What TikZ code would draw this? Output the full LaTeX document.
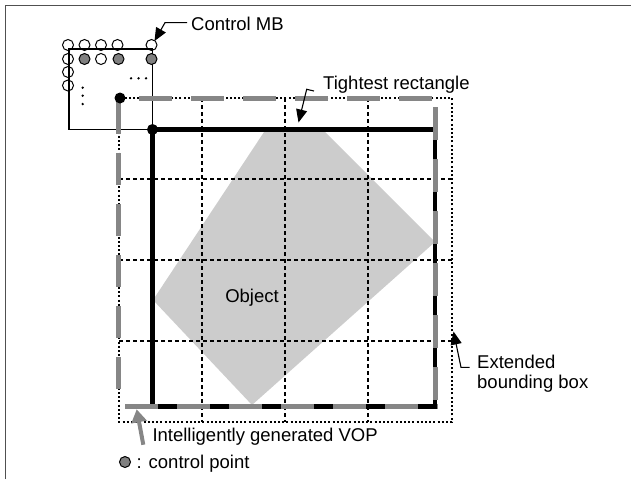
\documentclass[tikz,border=0pt]{standalone}
\usepackage{fontspec}
\setmainfont{Liberation Sans}
\usetikzlibrary{arrows.meta}
\definecolor{framegray}{HTML}{505050}
\definecolor{cpgray}{HTML}{808080}
\definecolor{vopgray}{HTML}{868686}
\definecolor{objgray}{HTML}{CCCCCC}
\begin{document}
\begin{tikzpicture}[x=1pt,y=-1pt,
  lbl/.style={font=\fontsize{18.5}{20.5}\selectfont, inner sep=0pt, anchor=base west},
  frameline/.style={draw=framegray, line width=1.3pt},
  griddash/.style={line width=1.3pt, dash pattern=on 4pt off 3pt},
  extbox/.style={line width=1.5pt, dash pattern=on 2pt off 2.2pt},
  mbline/.style={line width=1.1pt},
  tightline/.style={line width=4.6pt, line join=miter},
  vopline/.style={draw=vopgray, line width=5pt, line cap=butt},
  callout/.style={line width=1.1pt, -{Triangle[length=13pt,width=11pt]}},
  vopcallout/.style={draw=vopgray, line width=4pt, -{Triangle[length=13pt,width=15pt]}},
  ctrlpt/.style={circle, draw, line width=1pt, minimum size=11pt, inner sep=0pt},
]
\useasboundingbox (0,0) rectangle (631,479);
\draw[frameline] (5.5,479) -- (5.5,5.5) -- (631,5.5);

% object
\fill[objgray] (266,129) -- (322,129) -- (435,242) -- (252,405) -- (153,300) -- cycle;
\node[lbl, anchor=center] (obj) at (252,298) {Object};

% extended bounding box grid
\foreach \x in {202,285,368} \draw[griddash] (\x,98) -- (\x,422);
\foreach \y in {179,260,341} \draw[griddash] (119,\y) -- (452,\y);
\draw[extbox] (119,98) rectangle (452,422);

% control MB
\draw[mbline] (69,49) rectangle (152.5,129.5);
\foreach \x/\y in {68/45,84.5/45,101/45,117.5/45,151.5/45,68/59,101/59,68/72,68/85.5}
  \node[ctrlpt] at (\x,\y) {};
\foreach \x/\y in {84.5/59,118.5/59,151.5/59}
  \node[ctrlpt, fill=cpgray] at (\x,\y) {};
\foreach \x in {131,138.5,146} \fill (\x,78.3) circle (1.3pt);
\foreach \y in {87.7,95.7,104} \fill (82.7,\y) circle (1.3pt);

% tightest rectangle
\draw[tightline] (152.5,129.5) rectangle (435,406.5);

% intelligently generated VOP
\draw[vopline, dash pattern=on 33pt off 19pt, dash phase=33pt] (120,98) -- (435,98);
\draw[vopline, dash pattern=on 33pt off 19pt, dash phase=43pt] (435,98) -- (435,406.5);
\draw[vopline, dash pattern=on 33pt off 19pt, dash phase=45pt] (118,406.5) -- (438,406.5);
\draw[vopline, dash pattern=on 32pt off 19pt, dash phase=47pt] (118,98) -- (118,406.5);

% corner dots
\fill (120,98) circle (5.5pt);
\fill (152.5,129.5) circle (5.5pt);

% labels and callouts
\node[lbl] (cmb) at (191,30.7) {Control MB};
\coordinate (cmbtip) at (154.5,41);
\draw[callout] ([xshift=-4pt,yshift=1.5pt]cmb.west) -- (165,22.7) -- (cmbtip);

\node[lbl] (tight) at (323,89.3) {Tightest rectangle};
\coordinate (tighttip) at (298.5,122.5);
\draw[callout] ([xshift=-9pt,yshift=-6.5pt]tight.west) -- (306.7,89.3) -- (tighttip);

\node[lbl, align=left] (ext) at (477,388.5) {Extended\\bounding box};
\coordinate (exttip) at (453.5,331.5);
\draw[callout] ([xshift=-7.5pt]ext.west |- 0,367.3) -- (461,367.3) -- (exttip);

\node[lbl] (vop) at (152.3,441.7) {Intelligently generated VOP};
\coordinate (voptip) at (136.7,409.3);
\draw[vopcallout] ([xshift=-9pt,yshift=1pt]vop.south west) -- (voptip);

\node[ctrlpt, fill=cpgray] (legcp) at (125,462) {};
\node[lbl] (legtxt) at (136.5,468) {: control point};
\end{tikzpicture}
\end{document}
